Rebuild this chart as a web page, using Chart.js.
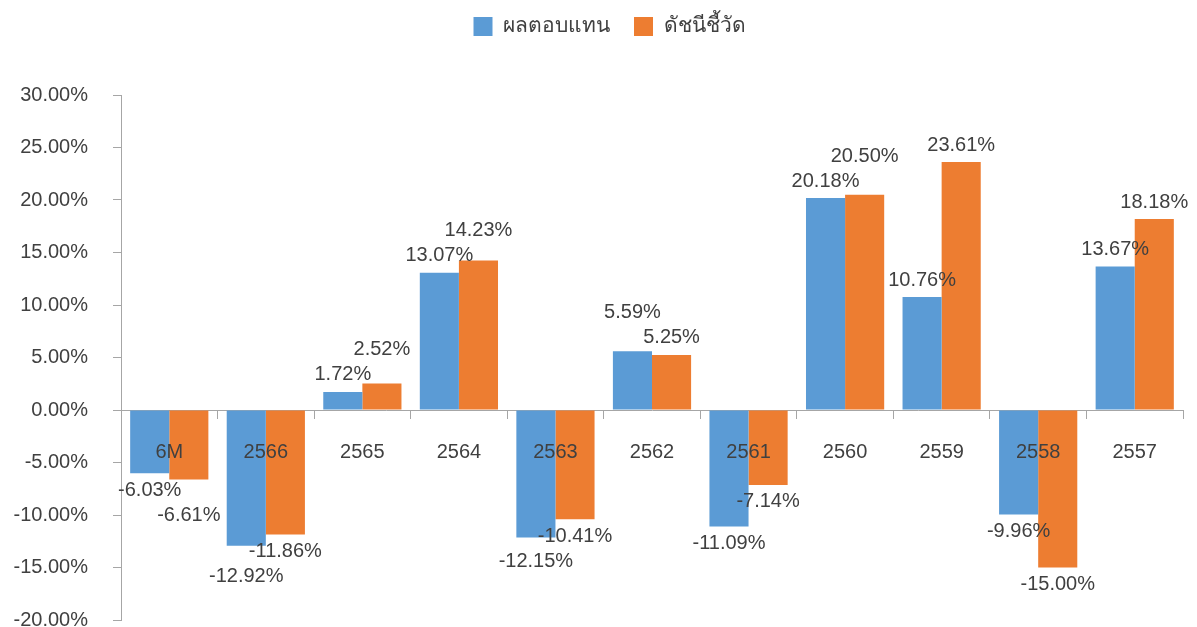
<!DOCTYPE html>
<html>
<head>
<meta charset="utf-8">
<script src="https://cdn.jsdelivr.net/npm/chart.js@4.4.1/dist/chart.umd.min.js"></script>
<style>
  body { margin: 0; background: #fff; }
  #wrap { width: 1197px; height: 627px; }
</style>
</head>
<body>
<div id="wrap"><canvas id="returnChart"></canvas></div>
<script>
const categories = ["6M", "2566", "2565", "2564", "2563", "2562", "2561", "2560", "2559", "2558", "2557"];
const fundReturn = [-6.03, -12.92, 1.72, 13.07, -12.15, 5.59, -11.09, 20.18, 10.76, -9.96, 13.67];
const benchmark = [-6.61, -11.86, 2.52, 14.23, -10.41, 5.25, -7.14, 20.50, 23.61, -15.00, 18.18];
const seriesNames = ["ผลตอบแทน", "ดัชนีชี้วัด"];

const textColor = "#404040";
const axisColor = "#a6a6a6";
const fontFamily = '"Liberation Sans", Arial, "Noto Sans", sans-serif';

// more room between legend and plot, legend nudged a bit right
const legendSpace = {
  id: "legendSpace",
  beforeLayout(chart) {
    const lg = chart.legend;
    if (!lg || lg._spaced) return;
    const fit = lg.fit;
    const draw = lg.draw;
    lg.fit = function () {
      fit.call(this);
      this.height += 46;
    };
    lg.draw = function () {
      this.ctx.save();
      this.ctx.translate(18, -2);
      draw.call(this);
      this.ctx.restore();
    };
    lg._spaced = true;
  },
};

// value labels above / below each bar, nudged apart when two in a group collide
const barLabels = {
  id: "barLabels",
  afterDraw(chart) {
    const ctx = chart.ctx;
    const gap = 17;
    const sep = 25;
    const metaA = chart.getDatasetMeta(0);
    const metaB = chart.getDatasetMeta(1);
    ctx.save();
    ctx.font = "20px " + fontFamily;
    ctx.fillStyle = textColor;
    ctx.textAlign = "center";
    ctx.textBaseline = "middle";
    categories.forEach((c, i) => {
      const items = [metaA, metaB].map((meta, d) => {
        const bar = meta.data[i];
        const v = chart.data.datasets[d].data[i];
        const y = v >= 0 ? bar.y - gap : bar.y + gap;
        return { x: bar.x, y: y, v: v };
      });
      const [a, b] = items;
      if ((a.v >= 0) === (b.v >= 0) && Math.abs(a.y - b.y) < sep) {
        const big = Math.abs(a.v) > Math.abs(b.v) ? a : b;
        const small = big === a ? b : a;
        big.y = big.v >= 0 ? Math.min(big.y, small.y - sep) : Math.max(big.y, small.y + sep);
      }
      items.forEach((it) => ctx.fillText(it.v.toFixed(2) + "%", it.x, it.y));
    });
    ctx.restore();
  },
};

const ctx = document.getElementById("returnChart").getContext("2d");
new Chart(ctx, {
  type: "bar",
  data: {
    labels: categories,
    datasets: [
      {
        label: seriesNames[0],
        data: fundReturn,
        backgroundColor: "#5b9bd5",
        categoryPercentage: 0.81,
        barPercentage: 1.0,
      },
      {
        label: seriesNames[1],
        data: benchmark,
        backgroundColor: "#ed7d31",
        categoryPercentage: 0.81,
        barPercentage: 1.0,
      },
    ],
  },
  options: {
    responsive: true,
    maintainAspectRatio: false,
    animation: false,
    layout: { padding: { top: -6, right: 14, bottom: 7, left: 0 } },
    plugins: {
      legend: {
        position: "top",
        labels: {
          boxWidth: 19,
          boxHeight: 19,
          padding: 24,
          color: textColor,
          font: { size: 21, family: fontFamily },
        },
      },
      tooltip: { enabled: false },
    },
    scales: {
      x: {
        position: { y: 0 },
        afterFit: (scale) => { scale.height = 0; },
        grid: { drawOnChartArea: false, drawTicks: true, tickLength: 8, color: axisColor },
        border: { display: true, color: axisColor },
        ticks: { z: 1, color: textColor, padding: 22, font: { size: 20, family: fontFamily } },
      },
      y: {
        min: -20,
        max: 30,
        afterFit: (scale) => { scale.width = 121; scale.paddingTop = 0; scale.paddingBottom = 0; },
        grid: { drawOnChartArea: false, drawTicks: true, tickLength: 8, color: axisColor },
        border: { display: true, color: axisColor },
        ticks: {
          stepSize: 5,
          padding: 25,
          color: textColor,
          font: { size: 20, family: fontFamily },
          callback: (v) => v.toFixed(2) + "%",
        },
      },
    },
  },
  plugins: [legendSpace, barLabels],
});
</script>
</body>
</html>
